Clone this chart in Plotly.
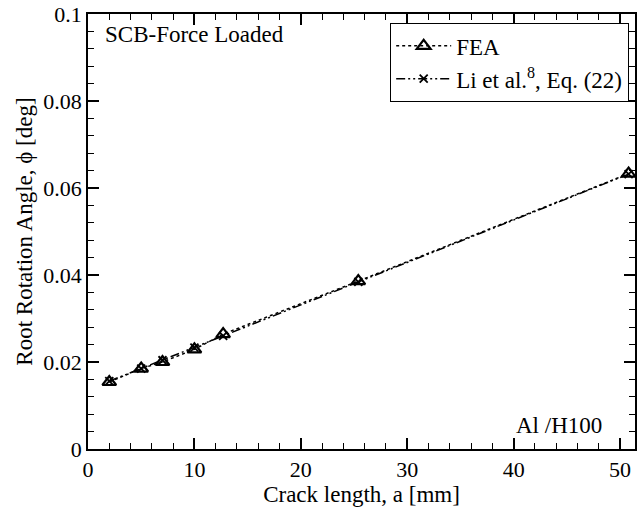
import plotly.graph_objects as go

# Data
crack_a = [2, 5, 7, 10, 12.7, 25.4, 50.8]
fea_phi = [0.0154, 0.0185, 0.0200, 0.0229, 0.0264, 0.0386, 0.0633]
li_phi = [0.0156, 0.0185, 0.0204, 0.0233, 0.0260, 0.0384, 0.0632]

x_ticks = [0, 10, 20, 30, 40, 50]
y_ticks = [0, 0.02, 0.04, 0.06, 0.08, 0.1]
y_tick_labels = ["0", "0.02", "0.04", "0.06", "0.08", "0.1"]

FONT = "Liberation Serif"

fig = go.Figure()
fig.add_trace(go.Scatter(
    x=crack_a, y=fea_phi, mode="lines+markers", name="FEA",
    line=dict(color="black", width=1.5, dash="dot"),
    marker=dict(symbol="triangle-up-open", size=12, color="black",
                line=dict(width=2.2, color="black")),
))
fig.add_trace(go.Scatter(
    x=crack_a, y=li_phi, mode="lines+markers", name="Li et al.<sup>8</sup>, Eq. (22)",
    line=dict(color="black", width=1.5, dash="9px,3px,2px,3px,2px,3px"),
    marker=dict(symbol="x-thin-open", size=8, color="black",
                line=dict(width=1.8, color="black")),
))

axis_common = dict(
    showline=True, linecolor="black", linewidth=1.5, mirror="ticks",
    ticks="inside", ticklen=11, tickwidth=1.5, tickcolor="black",
    showgrid=False, zeroline=False,
    tickfont=dict(family=FONT, size=22, color="black"),
)

fig.update_xaxes(
    range=[0, 51.4], tickvals=x_ticks,
    minor=dict(dtick=2, ticks="inside", ticklen=6, tickwidth=1.2, tickcolor="black", showgrid=False),
    title=dict(text="Crack length, a [mm]", font=dict(family=FONT, size=23, color="black"), standoff=2),
    **axis_common,
)
fig.update_yaxes(
    range=[0, 0.1], tickvals=y_ticks, ticktext=y_tick_labels,
    minor=dict(dtick=0.004, ticks="inside", ticklen=6, tickwidth=1.2, tickcolor="black", showgrid=False),
    title=dict(text="Root Rotation Angle, \u03d5 [deg]", font=dict(family=FONT, size=23, color="black"), standoff=4),
    **axis_common,
)

fig.add_annotation(
    x=0.028, y=0.986, xref="paper", yref="paper", xanchor="left", yanchor="top",
    text="SCB-Force Loaded", showarrow=False,
    font=dict(family=FONT, size=23, color="black"),
)
fig.add_annotation(
    x=0.944, y=0.02, xref="paper", yref="paper", xanchor="right", yanchor="bottom",
    text="Al /H100", showarrow=False,
    font=dict(family=FONT, size=23, color="black"),
)

fig.update_layout(
    width=639, height=512,
    margin=dict(l=88, r=2, t=13, b=63),
    paper_bgcolor="white", plot_bgcolor="white",
    showlegend=True,
    legend=dict(
        x=0.989, y=0.979, xanchor="right", yanchor="top",
        bgcolor="white", bordercolor="black", borderwidth=1.2,
        font=dict(family=FONT, size=23, color="black"),
        tracegroupgap=0, itemwidth=55,
    ),
)

fig.write_html("out.html", config={"displayModeBar": False},
               post_script="document.body.style.margin='0';")
